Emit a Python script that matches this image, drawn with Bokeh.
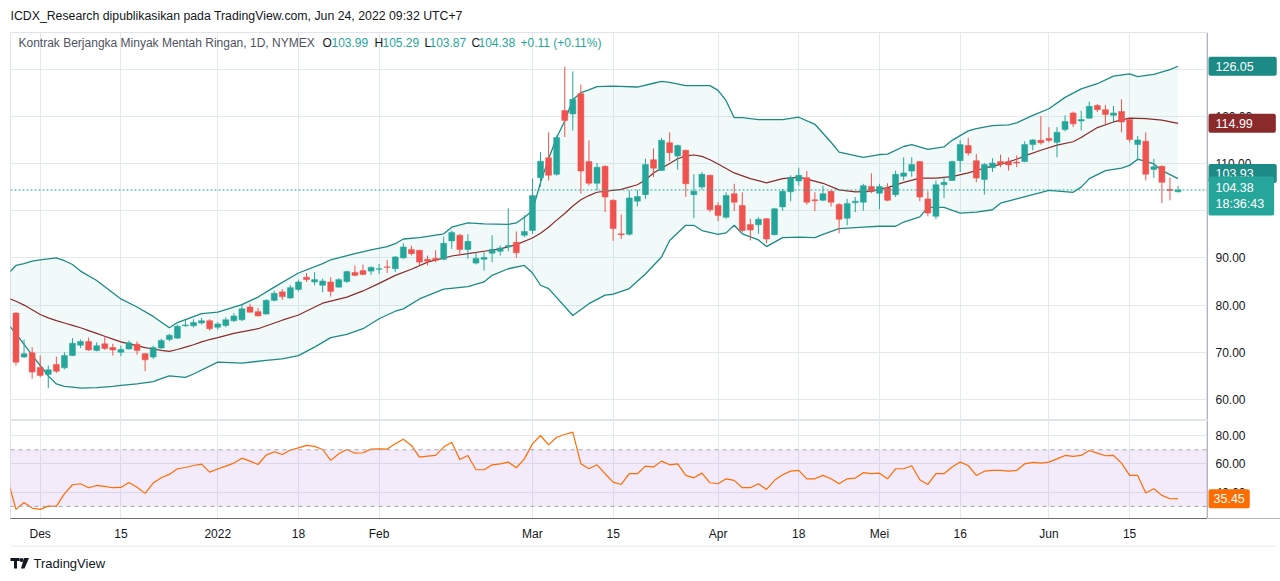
from bokeh.plotting import figure
from bokeh.layouts import column, row
from bokeh.models import (Range1d, FixedTicker, Span, BoxAnnotation, Label,
                          ColumnDataSource)
from bokeh.core.properties import value
from bokeh.embed import file_html
from bokeh.resources import INLINE

# daily bars, 26 Nov 2021 .. 24 Jun 2022 (index 0..144)
opens = [
    78.3, 69.0, 69.9, 66.8, 65.3, 67.4, 66.7, 69.3, 71.5, 72.3,
    70.4, 71.8, 71.0, 70.0, 70.7, 71.7, 69.7, 69.0, 70.9, 72.7,
    73.0, 75.6, 75.6, 76.2, 76.7, 75.3, 75.7, 76.7, 76.9, 79.6,
    78.6, 78.1, 81.0, 82.8, 81.5, 83.3, 85.9, 84.9, 84.2, 84.9,
    83.8, 85.0, 86.9, 87.3, 87.2, 87.6, 88.1, 87.7, 90.0, 91.8,
    91.6, 89.7, 89.9, 89.7, 93.6, 94.8, 91.8, 88.9, 89.7, 91.0,
    91.4, 92.3, 93.3, 94.8, 95.8, 107.0, 111.2, 107.7, 121.2, 120.5,
    124.8, 110.4, 105.8, 109.4, 102.2, 95.1, 95.0, 102.0, 103.4, 110.8,
    108.5, 114.4, 111.6, 112.8, 103.4, 105.0, 107.5, 101.1, 98.6, 103.6,
    101.1, 97.1, 97.0, 98.3, 94.9, 100.8, 104.0, 106.3, 107.0, 102.3,
    102.2, 104.1, 101.3, 98.4, 101.7, 101.8, 105.1, 103.7, 104.8, 103.4,
    107.3, 108.4, 110.4, 102.5, 98.8, 105.5, 106.4, 110.6, 113.8, 110.6,
    106.6, 109.1, 110.4, 110.4, 110.3, 110.4, 114.0, 114.9, 115.3, 114.5,
    117.2, 120.7, 119.0, 119.6, 122.3, 121.4, 120.2, 121.0, 119.3, 114.0,
    114.7, 108.7, 109.4, 104.5, 103.99]
highs = [
    78.5, 72.7, 71.1, 69.3, 67.2, 69.1, 70.0, 73.0, 72.7, 73.1,
    72.1, 73.2, 71.8, 71.4, 72.5, 72.3, 69.8, 71.4, 72.9, 73.9,
    75.9, 76.8, 77.0, 77.3, 77.0, 76.4, 77.4, 78.3, 80.1, 80.3,
    79.4, 81.3, 83.0, 83.4, 84.2, 85.4, 86.8, 87.0, 85.6, 85.9,
    85.7, 87.3, 88.4, 88.6, 88.2, 88.7, 89.6, 90.4, 93.1, 92.6,
    91.7, 90.5, 91.6, 94.5, 95.8, 95.1, 95.0, 91.2, 91.2, 94.8,
    92.6, 100.5, 95.6, 99.0, 106.8, 112.4, 116.6, 115.9, 130.5, 129.5,
    126.7, 114.9, 110.1, 109.6, 102.4, 99.2, 104.3, 104.4, 111.0, 113.2,
    115.4, 116.6, 114.0, 112.9, 107.7, 108.2, 107.6, 101.8, 103.9, 105.7,
    103.9, 98.3, 98.6, 98.4, 100.6, 104.6, 107.5, 109.1, 108.4, 103.9,
    105.3, 104.3, 101.6, 102.5, 102.9, 105.7, 107.9, 105.7, 105.8, 108.5,
    111.3, 111.3, 110.5, 104.1, 106.4, 107.2, 110.6, 114.9, 115.4, 112.0,
    110.1, 111.1, 111.9, 111.3, 111.7, 114.7, 115.2, 120.0, 117.7, 117.7,
    120.2, 121.0, 121.2, 123.1, 122.6, 122.4, 122.2, 123.6, 119.5, 115.8,
    116.6, 111.0, 109.6, 107.0, 105.29]
lows = [
    67.2, 68.8, 64.4, 64.7, 62.4, 65.6, 66.4, 69.2, 70.9, 70.3,
    70.2, 70.5, 69.3, 69.2, 70.6, 69.5, 66.0, 68.6, 70.7, 72.3,
    72.9, 75.4, 75.3, 75.9, 74.6, 74.8, 75.3, 76.4, 76.6, 78.4,
    77.6, 78.0, 80.8, 81.1, 81.3, 82.9, 84.9, 84.2, 82.7, 81.8,
    83.7, 84.7, 86.1, 86.3, 86.4, 86.6, 86.8, 87.0, 89.8, 90.5,
    88.4, 88.4, 89.1, 89.5, 91.9, 90.5, 89.8, 88.6, 87.3, 89.1,
    90.5, 91.4, 90.0, 94.4, 95.1, 105.1, 106.4, 107.4, 115.6, 117.0,
    103.6, 105.3, 104.3, 99.7, 93.6, 94.0, 94.7, 100.9, 102.5, 107.1,
    108.4, 110.5, 108.7, 102.9, 98.4, 104.5, 99.7, 97.8, 98.3, 99.9,
    95.5, 93.7, 95.1, 93.1, 94.8, 100.0, 102.0, 105.3, 101.3, 99.9,
    102.0, 100.9, 95.2, 96.9, 99.7, 100.0, 103.7, 100.3, 102.0, 102.9,
    106.4, 107.2, 102.0, 98.8, 98.2, 102.7, 106.3, 108.2, 111.7, 106.0,
    103.4, 108.2, 109.2, 108.5, 109.2, 110.3, 112.8, 114.0, 114.5, 111.3,
    116.8, 117.7, 117.0, 119.5, 120.9, 118.4, 118.8, 116.6, 114.5, 110.6,
    106.4, 106.9, 101.6, 102.2, 103.87]
closes = [
    67.9, 69.7, 65.8, 65.1, 66.3, 66.0, 69.3, 71.9, 72.3, 70.5,
    71.4, 70.8, 70.5, 70.6, 72.0, 70.4, 68.4, 71.0, 72.5, 73.6,
    75.5, 75.8, 76.3, 76.7, 75.0, 76.0, 76.9, 77.7, 79.2, 78.5,
    77.7, 81.0, 82.5, 81.8, 83.7, 84.9, 85.4, 85.4, 85.1, 82.9,
    85.4, 87.1, 86.3, 86.5, 88.0, 87.7, 88.0, 90.2, 92.3, 90.9,
    89.1, 89.3, 89.5, 93.1, 95.4, 91.8, 93.5, 89.9, 90.1, 91.8,
    92.1, 92.6, 91.1, 95.6, 103.2, 110.5, 107.5, 115.5, 119.1, 123.6,
    108.4, 105.8, 109.2, 102.9, 96.2, 94.9, 102.7, 103.0, 109.8, 109.0,
    114.9, 112.3, 113.8, 105.7, 104.1, 107.7, 100.2, 99.0, 103.2, 101.8,
    95.8, 95.9, 98.2, 94.0, 100.4, 104.1, 107.0, 107.5, 101.8, 102.1,
    103.6, 101.8, 98.2, 101.5, 102.0, 105.3, 104.1, 105.1, 102.2, 107.7,
    108.0, 109.8, 102.9, 99.5, 105.5, 106.0, 110.4, 114.0, 112.2, 106.9,
    109.8, 110.1, 109.9, 109.7, 110.1, 114.0, 115.0, 114.4, 114.9, 116.6,
    118.9, 118.4, 119.3, 122.1, 121.4, 120.4, 120.7, 118.8, 115.1, 115.0,
    107.7, 109.3, 106.0, 104.27, 104.38]

# Bollinger bands (bar index, value)
upper_x = [-1, 0, 1, 2, 3, 5, 6, 7, 8, 10, 13, 15, 17, 19, 20, 23, 25, 28, 30,
           32, 35, 38, 39, 42, 44, 46, 47, 48, 50, 53, 54, 56, 58, 61, 62, 63,
           64, 65, 66, 67, 68, 69, 70, 71, 72, 74, 77, 79, 80, 81, 83, 86, 87,
           88, 89, 90, 92, 95, 97, 99, 101, 102, 105, 107, 108, 110, 111, 113,
           115, 116, 117, 118, 119, 121, 123, 124, 126, 128, 130, 132, 134,
           136, 138, 139, 141, 143, 144]
upper = [86.6, 88.4, 88.8, 89.3, 89.6, 90.0, 89.4, 88.6, 87.2, 85.2, 81.3,
         79.6, 77.6, 75.2, 76.3, 78.2, 78.5, 80.1, 81.7, 83.8, 86.8, 88.8,
         89.6, 90.9, 91.7, 92.4, 93.0, 94.0, 94.3, 95.1, 96.5, 97.4, 97.2,
         97.1, 97.4, 98.6, 100.0, 106.0, 111.0, 115.5, 119.0, 123.5, 125.0,
         125.6, 126.3, 126.4, 126.2, 127.0, 127.4, 127.2, 126.5, 126.5, 125.5,
         123.3, 119.7, 119.7, 119.3, 119.3, 119.8, 118.3, 114.5, 112.4, 111.3,
         111.9, 112.0, 113.6, 114.0, 113.0, 113.5, 114.9, 115.9, 116.9, 117.4,
         118.0, 118.2, 118.6, 120.2, 121.6, 124.0, 125.8, 126.9, 128.5, 129.0,
         128.4, 128.9, 129.9, 130.6]
mid_x = [-1, 0, 1, 2, 3, 4, 5, 6, 7, 8, 9, 10, 11, 12, 13, 14, 15, 16, 17, 18,
         19, 20, 21, 22, 23, 24, 25, 27, 30, 33, 35, 38, 41, 43, 45, 47, 49,
         51, 54, 56, 58, 60, 62, 64, 65, 66, 67, 68, 69, 70, 71, 72, 75, 77,
         78, 79, 80, 81, 82, 83, 84, 85, 86, 87, 89, 91, 93, 95, 97, 98, 100,
         102, 104, 106, 107, 108, 110, 112, 114, 116, 118, 120, 122, 124, 125,
         127, 129, 131, 132, 134, 136, 138, 140, 142, 144]
mid = [81.5, 80.8, 80.0, 79.0, 78.0, 77.3, 76.7, 76.2, 75.7, 75.2, 74.6, 74.0,
       73.4, 72.8, 72.2, 71.8, 71.4, 71.0, 70.7, 70.4, 70.2, 70.6, 71.1, 71.6,
       72.2, 72.7, 73.1, 74.0, 75.0, 76.8, 77.9, 80.4, 81.7, 83.0, 84.6, 86.3,
       87.6, 89.1, 90.4, 90.9, 91.4, 91.9, 92.8, 94.2, 95.2, 96.5, 98.0, 99.4,
       101.0, 102.3, 103.2, 103.9, 104.5, 105.5, 106.5, 108.0, 109.0, 110.0,
       111.0, 111.6, 111.8, 111.5, 110.8, 109.9, 108.0, 106.8, 105.9, 106.8,
       107.1, 106.7, 105.8, 104.4, 104.0, 104.1, 104.5, 104.9, 106.0, 106.9,
       106.9, 107.2, 108.0, 109.0, 109.8, 110.9, 111.6, 112.8, 113.9, 114.6,
       115.5, 117.6, 118.8, 119.6, 119.5, 119.2, 118.5]
lower_x = [-1, 0, 1, 2, 3, 4, 5, 6, 7, 8, 10, 12, 13, 15, 17, 18, 19, 21, 22,
           25, 28, 31, 33, 35, 37, 39, 41, 43, 45, 47, 48, 50, 52, 53, 56, 58,
           59, 61, 63, 64, 65, 66, 69, 71, 73, 74, 76, 78, 80, 81, 83, 84, 85,
           87, 88, 89, 90, 92, 93, 95, 97, 99, 100, 102, 105, 107, 109, 110,
           112, 113, 115, 117, 119, 121, 122, 124, 126, 128, 131, 132, 133,
           135, 137, 138, 139, 141, 142, 144]
lower = [76.0, 73.9, 71.7, 69.4, 67.2, 65.0, 63.3, 62.8, 62.6, 62.4, 62.5,
         62.8, 63.0, 63.3, 63.8, 64.4, 65.0, 64.7, 65.4, 67.9, 67.7, 68.3, 68.6,
         69.3, 71.1, 73.1, 73.8, 75.0, 77.1, 78.7, 79.2, 81.3, 82.7, 83.4, 83.9,
         84.9, 86.3, 87.7, 88.4, 86.8, 84.2, 83.5, 77.8, 80.3, 82.1, 82.3, 83.5,
         86.6, 90.2, 93.7, 96.9, 96.9, 95.8, 95.0, 95.3, 96.9, 95.1, 93.8, 92.4,
         94.3, 94.4, 94.3, 95.0, 96.2, 96.5, 96.7, 96.7, 97.6, 98.7, 100.7,
         100.7, 99.5, 99.7, 100.2, 101.6, 102.5, 103.4, 104.3, 103.9, 105.0,
         106.8, 108.5, 109.0, 109.6, 110.9, 109.9, 108.5, 106.8]
band_labels = ["126.05", "114.99", "103.93"]
countdown = "18:36:43"

# RSI 14, index -1..144
rsi = [48.5,
       27.9, 32.8, 28.8, 27.9, 30.2, 30.0, 38.9, 45.3, 46.0, 43.2,
       44.8, 44.1, 43.2, 43.4, 46.9, 43.6, 39.2, 46.5, 50.2, 52.6,
       56.6, 57.5, 58.9, 59.9, 54.2, 56.4, 58.5, 60.6, 64.1, 62.0,
       59.6, 66.2, 68.6, 66.7, 69.8, 71.4, 73.1, 72.4, 70.2, 62.5,
       67.2, 70.2, 67.6, 67.9, 70.5, 70.7, 70.5, 74.2, 77.5, 73.1,
       64.8, 65.5, 66.0, 71.9, 75.4, 63.2, 66.0, 55.9, 55.9, 59.4,
       60.1, 61.3, 57.3, 63.6, 74.2, 80.1, 73.5, 78.9, 80.8, 82.5,
       60.1, 56.6, 59.4, 53.1, 47.2, 45.5, 53.1, 53.1, 58.5, 57.8,
       62.0, 59.4, 60.1, 51.9, 50.2, 53.5, 46.7, 46.0, 49.5, 48.4,
       43.2, 43.2, 46.0, 42.0, 48.4, 52.4, 54.9, 55.4, 49.5, 49.5,
       51.9, 49.5, 46.0, 49.5, 50.0, 53.8, 53.1, 53.5, 49.5, 56.6,
       56.6, 58.7, 48.8, 45.5, 53.1, 53.1, 57.8, 61.3, 58.9, 51.9,
       54.9, 55.4, 55.4, 54.9, 55.4, 60.1, 61.1, 60.6, 61.3, 63.6,
       66.0, 65.3, 66.0, 69.5, 67.6, 65.8, 66.0, 60.6, 51.9, 51.9,
       39.4, 42.5, 37.8, 35.4, 35.45]

tick_pos = [3, 13, 25, 35, 45, 64, 74, 87, 97, 107, 117, 128, 138]
tick_labels = ["Des", "15", "2022", "18", "Feb", "Mar", "15", "Apr", "18",
               "Mei", "16", "Jun", "15"]
price_ticks = [60, 70, 80, 90, 100, 110, 120, 130]
rsi_ticks = [40, 60, 80]

UP = "#26A69A"
DOWN = "#EF5350"
BAND = "#1C8A85"
BASIS = "#8A2A2A"
RSI_C = "#FF6D00"
GRID = "#E3EAEE"
AXIS = "#6A6D78"
BORDER = "#E0E3EB"
TXT = "#131722"
FONT = "Liberation Sans"


def bare(w, h, xr, yr):
    f = figure(frame_width=w, frame_height=h, x_range=xr, y_range=yr,
               x_axis_location=None, y_axis_location=None, min_border=0,
               output_backend="svg", toolbar_location=None, tools="",
               outline_line_color=None)
    f.grid.visible = False
    return f


n = len(closes)
colors = [UP if c >= o else DOWN for o, c in zip(opens, closes)]
src = ColumnDataSource(dict(
    x=list(range(n)), high=highs, low=lows, color=colors,
    top=[max(o, c) for o, c in zip(opens, closes)],
    bottom=[min(o, c) for o, c in zip(opens, closes)],
))

xr = Range1d(-0.68, 147.65)
price_yr = Range1d(55.55, 137.75)
rsi_yr = Range1d(21.45, 90.7)

# header line (page pixel coordinates)
head = bare(1280, 32, Range1d(0, 1280), Range1d(32, 0))
head.text(x=[10], y=[15],
          text=["ICDX_Research dipublikasikan pada TradingView.com, "
                "Jun 24, 2022 09:32 UTC+7"],
          text_font=value(FONT), text_font_size="12.3px", text_color=TXT,
          text_baseline="middle")

# price pane
p = figure(frame_width=1197, frame_height=388, x_range=xr, y_range=price_yr,
           x_axis_location=None, y_axis_location=None, output_backend="svg",
           toolbar_location=None, tools="", min_border=0, min_border_left=10,
           outline_line_color=BORDER)
p.xgrid.ticker = FixedTicker(ticks=tick_pos)
p.ygrid.ticker = FixedTicker(ticks=price_ticks)
p.grid.grid_line_color = GRID

p.patch(upper_x + lower_x[::-1], upper + lower[::-1],
        fill_color=UP, fill_alpha=0.06, line_color=None)
p.line(upper_x, upper, line_color=BAND, line_width=1.3)
p.line(lower_x, lower, line_color=BAND, line_width=1.3)
p.line(mid_x, mid, line_color=BASIS, line_width=1.2)

p.segment(x0="x", y0="low", x1="x", y1="high", line_color="color",
          line_width=1, source=src)
p.vbar(x="x", top="top", bottom="bottom", width=0.74, fill_color="color",
       line_color="color", line_width=0.5, source=src)

p.add_layout(Span(location=closes[-1], dimension="width", line_color=UP,
                  line_dash="2 2", line_width=1))

chg = closes[-1] - closes[-2]
legend_parts = [
    (8, "Kontrak Berjangka Minyak Mentah Ringan, 1D, NYMEX", "#50535E"),
    (312, "O", TXT), (321, f"{opens[-1]:.2f}", UP),
    (364, "H", TXT), (372, f"{highs[-1]:.2f}", UP),
    (414, "L", TXT), (419, f"{lows[-1]:.2f}", UP),
    (461, "C", TXT), (468, f"{closes[-1]:.2f}", UP),
    (510, f"{chg:+.2f} ({chg / closes[-2] * 100:+.2f}%)", UP),
]
for lx, txt, col in legend_parts:
    p.add_layout(Label(x=lx, y=378, x_units="screen", y_units="screen",
                       text=txt, text_font=FONT, text_font_size="12px",
                       text_color=col, text_baseline="middle"))

# price scale column
ps = bare(73, 388, Range1d(0, 73), price_yr)
ps.text(x=[8] * len(price_ticks), y=price_ticks,
        text=[f"{t:.2f}" for t in price_ticks], text_font=value(FONT),
        text_font_size="12px", text_color=TXT, text_baseline="middle")
ps.add_layout(Span(location=0, dimension="height", line_color=AXIS,
                   line_width=1))
for yv, txt, bg, off in [(upper[-1], band_labels[0], BAND, 0),
                         (mid[-1], band_labels[1], BASIS, 0),
                         (lower[-1], band_labels[2], BAND, 5)]:
    ps.add_layout(Label(x=1, y=yv, x_units="screen", text=txt, y_offset=off,
                        text_font=FONT, text_font_size="12.5px",
                        text_color="white", text_baseline="middle",
                        background_fill_color=bg,
                        padding=dict(left=7, right=23, top=5, bottom=5),
                        border_radius=2))
ps.add_layout(Label(x=1, y=closes[-1], x_units="screen",
                    text=f"{closes[-1]:.2f}\n{countdown}", y_offset=-6,
                    text_font=FONT, text_font_size="12.5px",
                    text_color="white", text_baseline="middle",
                    background_fill_color=UP,
                    padding=dict(left=7, right=10, top=4, bottom=4),
                    border_radius=2))

# RSI pane
r = figure(frame_width=1197, frame_height=98, x_range=xr, y_range=rsi_yr,
           y_axis_location=None, output_backend="svg", toolbar_location=None,
           tools="", min_border=0, min_border_left=10, min_border_bottom=27,
           outline_line_color=BORDER)
r.add_layout(BoxAnnotation(bottom=30, top=70, fill_color="#A35BD6",
                           fill_alpha=0.13, line_alpha=0, level="underlay"))
for lvl in (70, 30):
    r.add_layout(Span(location=lvl, dimension="width", line_color="#A3A6AF",
                      line_dash="4 4", line_width=1))
r.line(list(range(-1, n)), rsi, line_color=RSI_C, line_width=1.2)
r.xgrid.ticker = FixedTicker(ticks=tick_pos)
r.ygrid.ticker = FixedTicker(ticks=rsi_ticks)
r.grid.grid_line_color = GRID
r.xaxis.ticker = FixedTicker(ticks=tick_pos)
r.xaxis.major_label_overrides = dict(zip(tick_pos, tick_labels))
r.xaxis.axis_line_color = AXIS
r.xaxis.major_tick_line_color = None
r.xaxis.minor_tick_line_color = None
r.xaxis.major_tick_out = 0
r.xaxis.major_label_standoff = 8
r.xaxis.major_label_text_font = FONT
r.xaxis.major_label_text_font_size = "12px"
r.xaxis.major_label_text_color = TXT

rs = bare(73, 98, Range1d(0, 73), rsi_yr)
rs.min_border_bottom = 27
rs.text(x=[8] * len(rsi_ticks), y=rsi_ticks,
        text=[f"{t:.2f}" for t in rsi_ticks], text_font=value(FONT),
        text_font_size="12px", text_color=TXT, text_baseline="middle")
rs.add_layout(Span(location=0, dimension="height", line_color=AXIS,
                   line_width=1))
rs.add_layout(Span(location=rsi_yr.start, dimension="width", line_color=AXIS,
                   line_width=1))
rs.add_layout(Label(x=1, y=rsi[-1], x_units="screen", text=f"{rsi[-1]:.2f}",
                    text_font=FONT, text_font_size="12.5px",
                    text_color="white", text_baseline="middle",
                    background_fill_color=RSI_C,
                    padding=dict(left=5, right=5, top=5, bottom=5),
                    border_radius=2))

# footer with logo (page pixel coordinates)
foot = bare(1280, 36, Range1d(0, 1280), Range1d(581, 545))
foot.segment(x0=[10], y0=[545.5], x1=[1275], y1=[545.5], line_color=BORDER,
             line_width=1)
foot.quad(left=[10], right=[19], top=[557.5], bottom=[560.5],
          fill_color=TXT, line_color=None)
foot.quad(left=[13.5], right=[16.5], top=[557.5], bottom=[568],
          fill_color=TXT, line_color=None)
foot.scatter(x=[21], y=[559.5], size=4, fill_color=TXT, line_color=None)
foot.patch(x=[23.5, 28.5, 24, 20.5], y=[557.5, 557.5, 568, 568],
           fill_color=TXT, line_color=None)
foot.text(x=[33], y=[563], text=["TradingView"], text_font=value(FONT),
          text_font_size="13px", text_color=TXT, text_baseline="middle")

layout = column(head, row(p, ps), row(r, rs), foot)
open("out.html", "w").write(file_html(layout, INLINE))
